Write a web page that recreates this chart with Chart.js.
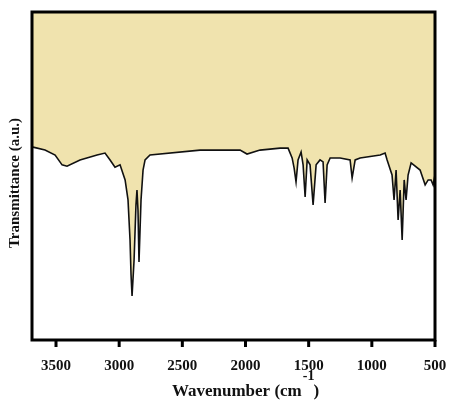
<!DOCTYPE html>
<html><head><script src="https://cdn.jsdelivr.net/npm/chart.js@4"></script>
<style>body{margin:0;background:#fff}#w{width:451px;height:414px}</style></head>
<body><div id="w"><canvas id="c"></canvas></div>
<script>
const wavenumbers=[3682,3587,3507,3452,3413,3310,3175,3112,3072,3033,2993,2953,2930,2914,2906,2898,2882,2867,2859,2851,2843,2827,2811,2795,2756,2360,2043,1988,1885,1726,1663,1631,1615,1600,1584,1560,1544,1528,1512,1489,1465,1441,1410,1386,1370,1354,1330,1251,1172,1156,1132,1093,934,895,879,840,824,808,792,776,760,744,729,713,689,618,578,554,531,515,500];
const transmittance=[58.8,57.9,56.4,53.4,53.0,54.9,56.4,57.0,54.9,52.7,53.4,48.8,42.7,30.5,19.8,13.4,24.4,41.2,45.7,39.6,23.8,42.7,51.8,54.9,56.4,57.9,57.9,56.7,57.9,58.5,58.5,55.5,52.4,48.2,54.9,57.3,53.4,43.6,54.9,53.4,41.2,53.4,54.9,54.3,41.8,53.4,55.5,55.5,54.9,49.4,54.9,55.5,56.4,57.0,54.9,50.3,42.7,51.8,36.6,45.7,30.5,48.8,42.7,50.3,54.0,51.8,47.3,48.8,48.8,47.3,50.3];
const xTicks=[3500,3000,2500,2000,1500,1000,500];
const font='"Liberation Serif", "Times New Roman", serif';
const box={id:'box',afterDraw(c){const a=c.chartArea,x=c.ctx,sc=c.scales.x;x.save();x.strokeStyle='#000';x.lineWidth=3;x.strokeRect(a.left,a.top,a.right-a.left,a.bottom-a.top);
x.lineWidth=3;xTicks.forEach(v=>{const p=sc.getPixelForValue(v);x.beginPath();x.moveTo(p,a.bottom);x.lineTo(p,a.bottom+7);x.stroke();});
x.fillStyle='#111';x.textBaseline='alphabetic';
const F='bold 17px '+font,S='bold 14px '+font;
x.font=F;const t='Wavenumber (cm';const tw=x.measureText(t).width;x.font=S;const sup='-1';const sw=x.measureText(sup).width;x.font=F;const pw=x.measureText(')').width;
let sx=(a.left+a.right)/2-(tw+sw+pw)/2+12;x.fillText(t,sx,396);x.font=S;x.fillText(sup,sx+tw+1,380);x.font=F;x.fillText(')',sx+tw+sw,396);
x.translate(19,(a.top+a.bottom)/2+7);x.rotate(-Math.PI/2);x.textAlign='center';x.font='bold 15px '+font;x.fillText('Transmittance (a.u.)',0,0);x.restore();}};
new Chart(document.getElementById('c'),{type:'line',
data:{datasets:[{data:wavenumbers.map((w,i)=>({x:w,y:transmittance[i]})),borderColor:'#111',borderWidth:1.6,pointRadius:0,tension:0,fill:'end',backgroundColor:'#f0e3ae'}]},
options:{responsive:true,maintainAspectRatio:false,animation:false,layout:{padding:{top:12,right:16,left:0}},
plugins:{legend:{display:false},tooltip:{enabled:false}},
scales:{x:{type:'linear',reverse:true,min:500,max:3690,afterBuildTicks:s=>{s.ticks=xTicks.map(v=>({value:v}))},afterFit:s=>{s.height=74;s.paddingRight=0;s.paddingLeft=0},
grid:{display:false},border:{display:false},
ticks:{color:'#111',font:{family:font,size:15,weight:'bold'},maxRotation:0,padding:9,callback:v=>String(v)}},
y:{min:0,max:100,afterFit:s=>{s.width=32},grid:{display:false},border:{display:false},ticks:{display:false}}}},
plugins:[box]});
</script></body></html>
